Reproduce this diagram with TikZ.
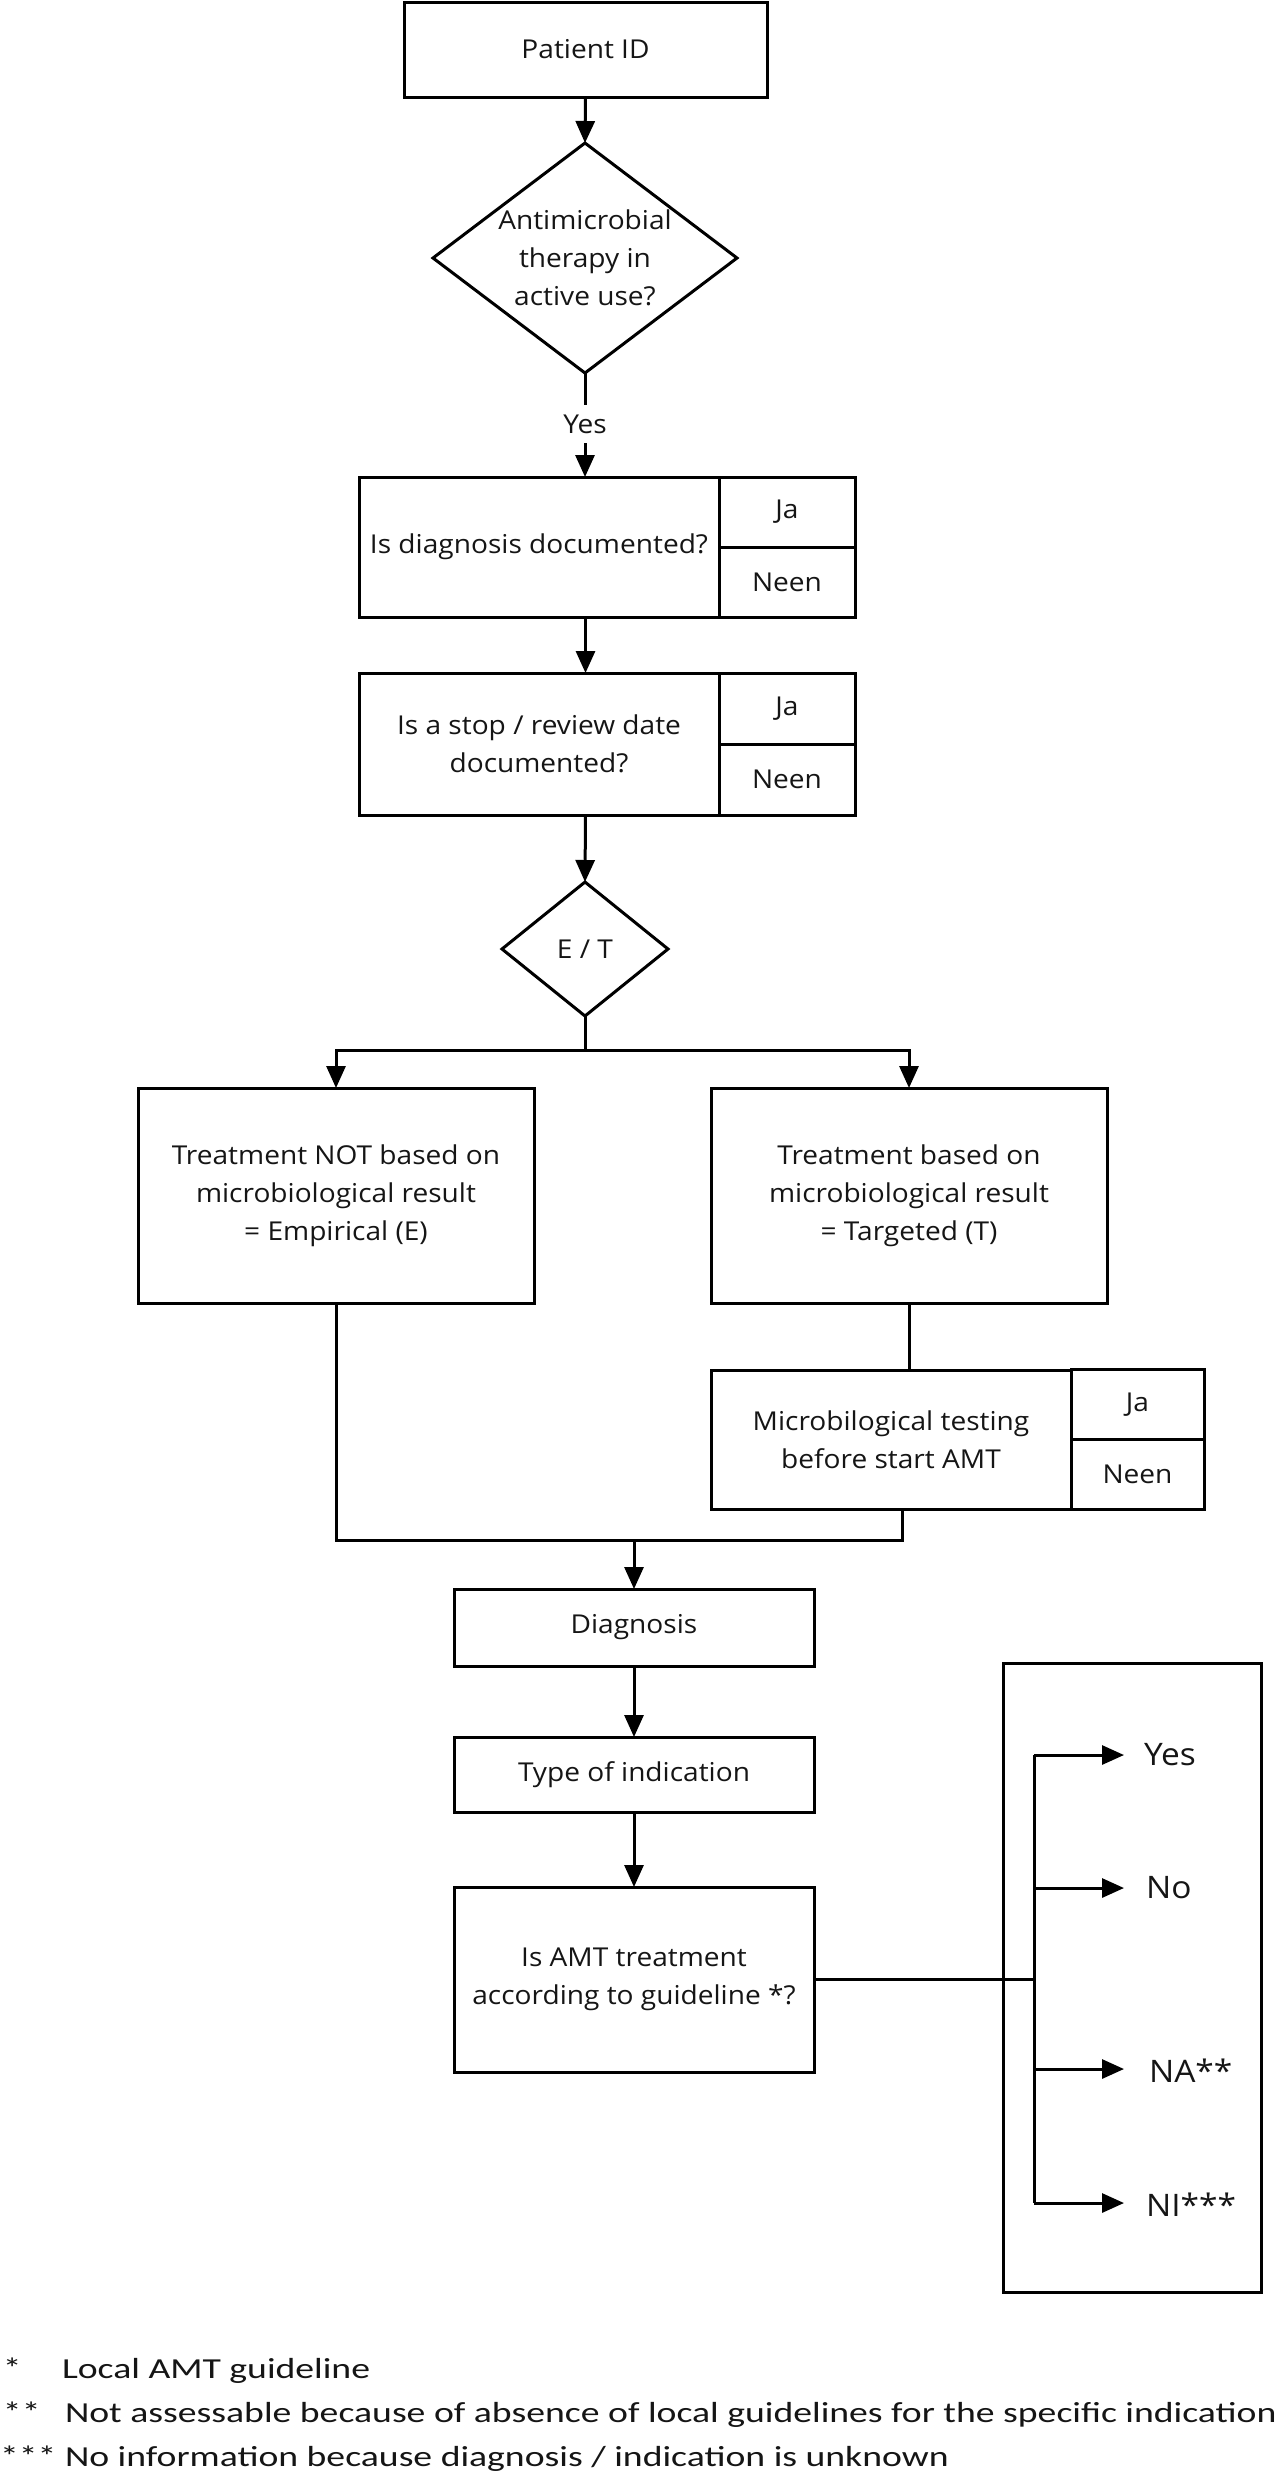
\documentclass[tikz,border=0pt]{standalone}
\usepackage{fontspec}
\newfontfamily\chartfont[FakeStretch=1.08]{Open Sans}
\newfontfamily\footfont[FakeStretch=1.3]{Carlito}
\usetikzlibrary{shapes.geometric,arrows.meta}
\definecolor{ink}{HTML}{151515}
\begin{document}
\begin{tikzpicture}[x=0.5pt,y=-0.5pt,
  every node/.style={inner sep=0pt, outer sep=0pt, text=ink},
  box/.style={draw, line width=1.5pt, align=center, font=\chartfont\fontsize{13}{19}\selectfont},
  dia/.style={draw, diamond, line width=1.5pt},
  txt/.style={align=center, font=\chartfont\fontsize{13}{19}\selectfont},
  lab/.style={anchor=west, font=\chartfont\fontsize{15.5}{19}\selectfont},
  foot/.style={anchor=base west, font=\footfont\fontsize{14.5}{22}\selectfont},
  conn/.style={line width=1.5pt},
  arr/.style={conn, -{Triangle[length=11pt,width=9.5pt]}},
]
\useasboundingbox (0,0) rectangle (1288,2480);

% top part
\node[box, minimum width=181.5pt, minimum height=47.5pt] (pid) at (585.5,49.5) {Patient ID};
\node[dia, minimum width=152pt, minimum height=115pt] (d1) at (585,258) {};
\node[txt] (d1t) at (585,258) {Antimicrobial\\therapy in\\active use?};
\node[txt, minimum height=19pt] (yes) at (585,424) {Yes};

\node[box, minimum width=180pt, minimum height=70pt] (q1) at (539,547) {Is diagnosis documented?};
\node[box, minimum width=68pt, minimum height=35pt] (q1ja) at (787,512) {Ja};
\node[box, minimum width=68pt, minimum height=35pt] (q1nee) at (787,582) {Neen};

\node[box, minimum width=180pt, minimum height=71pt] (q2) at (539,744) {Is a stop / review date\\documented?};
\node[box, minimum width=68pt, minimum height=35.5pt] (q2ja) at (787,708.5) {Ja};
\node[box, minimum width=68pt, minimum height=35.5pt] (q2nee) at (787,779.5) {Neen};

\node[dia, minimum width=83pt, minimum height=67pt] (d2) at (585,949) {};
\node[txt] (d2t) at (585,949) {E / T};
\coordinate (split) at (585,1050);

\node[box, minimum width=198pt, minimum height=107.5pt] (emp) at (336,1195.5) {Treatment NOT based on\\microbiological result\\= Empirical (E)};
\node[box, minimum width=198pt, minimum height=107.5pt] (tar) at (909,1195.5) {Treatment based on\\microbiological result\\= Targeted (T)};

\node[box, minimum width=180pt, minimum height=69.5pt] (mic) at (891,1439.5) {Microbilogical testing\\before start AMT};
\node[box, minimum width=66.5pt, minimum height=34.75pt] (micja) at (1137.5,1404.6) {Ja};
\node[box, minimum width=66.5pt, minimum height=34.75pt] (micnee) at (1137.5,1474.4) {Neen};
\coordinate (merge) at (634,1540);

\node[box, minimum width=180pt, minimum height=38.5pt] (diag) at (634,1627.5) {Diagnosis};
\node[box, minimum width=180pt, minimum height=37.5pt] (type) at (634,1774.5) {Type of indication};
\node[box, minimum width=180pt, minimum height=92.5pt] (amt) at (634,1979.5) {Is AMT treatment\\according to guideline *?};

\node[draw, line width=1.5pt, minimum width=129pt, minimum height=314.5pt] (big) at (1132,1977.5) {};
\coordinate (br) at (1034,1979.5);
\coordinate (bt) at (1034,1755);
\coordinate (bn) at (1034,1888);
\coordinate (ba) at (1034,2069);
\coordinate (bi) at (1034,2203);
\node[lab] (lyes) at (1144,1755) {Yes};
\node[lab] (lno) at (1146,1888) {No};
\node[lab] (lna) at (1149,2071) {NA**};
\node[lab] (lni) at (1146,2205) {NI***};

% connectors
\draw[arr] (pid.south) -- (d1.north);
\draw[conn] (d1.south) -- (yes.north);
\draw[arr] (yes.south) -- (yes.south |- q1.north);
\draw[arr] (q1.south -| pid.south) -- (q2.north -| pid.south);
\draw[arr] (q2.south -| pid.south) -- (d2.north);
\draw[conn] (d2.south) -- (split);
\draw[arr] (split) -| (emp.north);
\draw[arr] (split) -| (tar.north);
\draw[conn] (tar.south) -- (tar.south |- mic.north);
\draw[conn] (emp.south) |- (merge);
\draw[conn] ([xshift=5.5pt]mic.south) |- (merge);
\draw[arr] (merge) -- (diag.north);
\draw[arr] (diag.south) -- (type.north);
\draw[arr] (type.south) -- (amt.north);
\draw[conn] (amt.east) -- (br);
\draw[conn] (bt) -- (bi);
\draw[arr] (bt) -- ([xshift=-10pt]lyes.west |- bt);
\draw[arr] (bn) -- ([xshift=-11pt]lno.west |- bn);
\draw[arr] (ba) -- ([xshift=-12.5pt]lna.west |- ba);
\draw[arr] (bi) -- ([xshift=-11pt]lni.west |- bi);

% footnotes
\node[foot] (f1s) at (3,2378) {*};
\node[foot] (f1) at (62,2378) {Local AMT guideline};
\node[foot] (f2s) at (3,2422) {**};
\node[foot] (f2) at (65,2422) {Not assessable because of absence of local guidelines for the specific indication};
\node[foot] (f3s) at (0,2466) {***};
\node[foot] (f3) at (65,2466) {No information because diagnosis / indication is unknown};
\end{tikzpicture}
\end{document}
